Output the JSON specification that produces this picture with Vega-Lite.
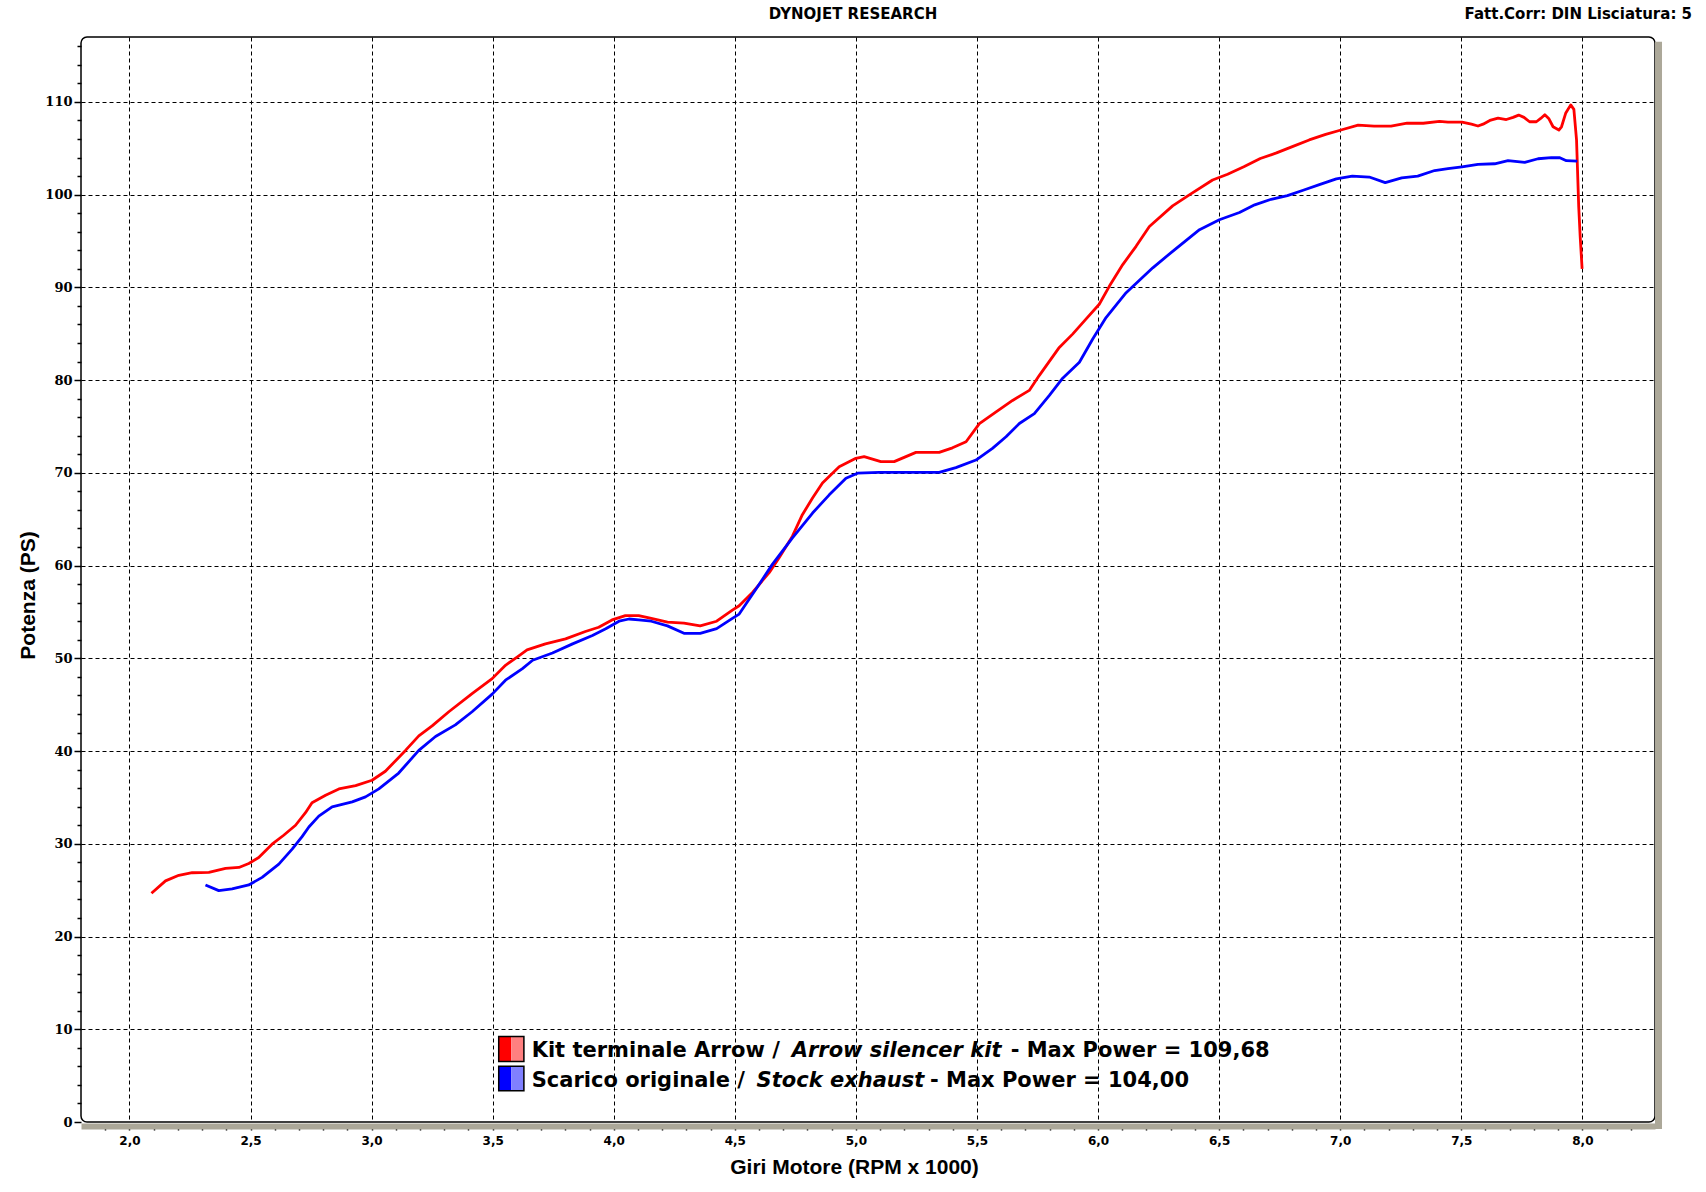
{
  "$schema": "https://vega.github.io/schema/vega-lite/v6.json",
  "description": "Dynojet power curves, Arrow silencer kit vs stock exhaust",
  "width": 1574,
  "height": 1085,
  "autosize": "none",
  "padding": {"left": 81, "top": 37, "right": 51, "bottom": 70},
  "background": "white",
  "title": {
    "text": "DYNOJET RESEARCH",
    "font": "DejaVu Sans",
    "fontWeight": "bold",
    "fontSize": 15,
    "color": "#000",
    "anchor": "middle",
    "frame": "group",
    "dx": -15,
    "offset": -15
  },
  "data": {
    "values": [
      {"rpm": 2.091, "power": 24.66, "series": "Arrow"},
      {"rpm": 2.149, "power": 26.0, "series": "Arrow"},
      {"rpm": 2.204, "power": 26.6, "series": "Arrow"},
      {"rpm": 2.259, "power": 26.88, "series": "Arrow"},
      {"rpm": 2.328, "power": 26.92, "series": "Arrow"},
      {"rpm": 2.397, "power": 27.34, "series": "Arrow"},
      {"rpm": 2.452, "power": 27.45, "series": "Arrow"},
      {"rpm": 2.493, "power": 27.88, "series": "Arrow"},
      {"rpm": 2.534, "power": 28.52, "series": "Arrow"},
      {"rpm": 2.589, "power": 29.96, "series": "Arrow"},
      {"rpm": 2.637, "power": 30.92, "series": "Arrow"},
      {"rpm": 2.686, "power": 32.0, "series": "Arrow"},
      {"rpm": 2.727, "power": 33.35, "series": "Arrow"},
      {"rpm": 2.754, "power": 34.42, "series": "Arrow"},
      {"rpm": 2.81, "power": 35.24, "series": "Arrow"},
      {"rpm": 2.865, "power": 35.92, "series": "Arrow"},
      {"rpm": 2.934, "power": 36.28, "series": "Arrow"},
      {"rpm": 3.002, "power": 36.85, "series": "Arrow"},
      {"rpm": 3.057, "power": 37.82, "series": "Arrow"},
      {"rpm": 3.14, "power": 40.07, "series": "Arrow"},
      {"rpm": 3.195, "power": 41.64, "series": "Arrow"},
      {"rpm": 3.25, "power": 42.71, "series": "Arrow"},
      {"rpm": 3.319, "power": 44.24, "series": "Arrow"},
      {"rpm": 3.415, "power": 46.2, "series": "Arrow"},
      {"rpm": 3.498, "power": 47.81, "series": "Arrow"},
      {"rpm": 3.553, "power": 49.25, "series": "Arrow"},
      {"rpm": 3.601, "power": 50.14, "series": "Arrow"},
      {"rpm": 3.642, "power": 50.92, "series": "Arrow"},
      {"rpm": 3.718, "power": 51.56, "series": "Arrow"},
      {"rpm": 3.801, "power": 52.1, "series": "Arrow"},
      {"rpm": 3.883, "power": 52.89, "series": "Arrow"},
      {"rpm": 3.938, "power": 53.35, "series": "Arrow"},
      {"rpm": 3.993, "power": 54.14, "series": "Arrow"},
      {"rpm": 4.048, "power": 54.61, "series": "Arrow"},
      {"rpm": 4.103, "power": 54.61, "series": "Arrow"},
      {"rpm": 4.155, "power": 54.3, "series": "Arrow"},
      {"rpm": 4.222, "power": 53.9, "series": "Arrow"},
      {"rpm": 4.29, "power": 53.8, "series": "Arrow"},
      {"rpm": 4.357, "power": 53.5, "series": "Arrow"},
      {"rpm": 4.425, "power": 54.0, "series": "Arrow"},
      {"rpm": 4.49, "power": 55.2, "series": "Arrow"},
      {"rpm": 4.518, "power": 55.67, "series": "Arrow"},
      {"rpm": 4.573, "power": 57.1, "series": "Arrow"},
      {"rpm": 4.642, "power": 59.24, "series": "Arrow"},
      {"rpm": 4.683, "power": 60.85, "series": "Arrow"},
      {"rpm": 4.738, "power": 63.17, "series": "Arrow"},
      {"rpm": 4.779, "power": 65.49, "series": "Arrow"},
      {"rpm": 4.821, "power": 67.28, "series": "Arrow"},
      {"rpm": 4.862, "power": 68.9, "series": "Arrow"},
      {"rpm": 4.931, "power": 70.67, "series": "Arrow"},
      {"rpm": 5.0, "power": 71.57, "series": "Arrow"},
      {"rpm": 5.034, "power": 71.75, "series": "Arrow"},
      {"rpm": 5.103, "power": 71.21, "series": "Arrow"},
      {"rpm": 5.158, "power": 71.21, "series": "Arrow"},
      {"rpm": 5.248, "power": 72.21, "series": "Arrow"},
      {"rpm": 5.344, "power": 72.21, "series": "Arrow"},
      {"rpm": 5.399, "power": 72.7, "series": "Arrow"},
      {"rpm": 5.455, "power": 73.35, "series": "Arrow"},
      {"rpm": 5.51, "power": 75.3, "series": "Arrow"},
      {"rpm": 5.579, "power": 76.57, "series": "Arrow"},
      {"rpm": 5.647, "power": 77.81, "series": "Arrow"},
      {"rpm": 5.716, "power": 78.89, "series": "Arrow"},
      {"rpm": 5.757, "power": 80.49, "series": "Arrow"},
      {"rpm": 5.84, "power": 83.53, "series": "Arrow"},
      {"rpm": 5.895, "power": 84.96, "series": "Arrow"},
      {"rpm": 5.95, "power": 86.57, "series": "Arrow"},
      {"rpm": 6.005, "power": 88.18, "series": "Arrow"},
      {"rpm": 6.047, "power": 90.14, "series": "Arrow"},
      {"rpm": 6.102, "power": 92.46, "series": "Arrow"},
      {"rpm": 6.157, "power": 94.43, "series": "Arrow"},
      {"rpm": 6.212, "power": 96.57, "series": "Arrow"},
      {"rpm": 6.308, "power": 98.79, "series": "Arrow"},
      {"rpm": 6.377, "power": 99.97, "series": "Arrow"},
      {"rpm": 6.473, "power": 101.58, "series": "Arrow"},
      {"rpm": 6.535, "power": 102.2, "series": "Arrow"},
      {"rpm": 6.602, "power": 103.0, "series": "Arrow"},
      {"rpm": 6.67, "power": 103.9, "series": "Arrow"},
      {"rpm": 6.737, "power": 104.5, "series": "Arrow"},
      {"rpm": 6.805, "power": 105.2, "series": "Arrow"},
      {"rpm": 6.872, "power": 105.9, "series": "Arrow"},
      {"rpm": 6.94, "power": 106.5, "series": "Arrow"},
      {"rpm": 7.007, "power": 107.0, "series": "Arrow"},
      {"rpm": 7.074, "power": 107.5, "series": "Arrow"},
      {"rpm": 7.14, "power": 107.4, "series": "Arrow"},
      {"rpm": 7.21, "power": 107.4, "series": "Arrow"},
      {"rpm": 7.276, "power": 107.7, "series": "Arrow"},
      {"rpm": 7.343, "power": 107.7, "series": "Arrow"},
      {"rpm": 7.41, "power": 107.9, "series": "Arrow"},
      {"rpm": 7.445, "power": 107.83, "series": "Arrow"},
      {"rpm": 7.503, "power": 107.83, "series": "Arrow"},
      {"rpm": 7.542, "power": 107.6, "series": "Arrow"},
      {"rpm": 7.569, "power": 107.4, "series": "Arrow"},
      {"rpm": 7.59, "power": 107.6, "series": "Arrow"},
      {"rpm": 7.618, "power": 108.0, "series": "Arrow"},
      {"rpm": 7.652, "power": 108.26, "series": "Arrow"},
      {"rpm": 7.686, "power": 108.1, "series": "Arrow"},
      {"rpm": 7.714, "power": 108.33, "series": "Arrow"},
      {"rpm": 7.737, "power": 108.58, "series": "Arrow"},
      {"rpm": 7.759, "power": 108.33, "series": "Arrow"},
      {"rpm": 7.782, "power": 107.86, "series": "Arrow"},
      {"rpm": 7.81, "power": 107.86, "series": "Arrow"},
      {"rpm": 7.828, "power": 108.22, "series": "Arrow"},
      {"rpm": 7.845, "power": 108.62, "series": "Arrow"},
      {"rpm": 7.861, "power": 108.22, "series": "Arrow"},
      {"rpm": 7.879, "power": 107.32, "series": "Arrow"},
      {"rpm": 7.903, "power": 106.97, "series": "Arrow"},
      {"rpm": 7.914, "power": 107.32, "series": "Arrow"},
      {"rpm": 7.931, "power": 108.77, "series": "Arrow"},
      {"rpm": 7.952, "power": 109.68, "series": "Arrow"},
      {"rpm": 7.965, "power": 109.2, "series": "Arrow"},
      {"rpm": 7.976, "power": 105.9, "series": "Arrow"},
      {"rpm": 7.985, "power": 98.7, "series": "Arrow"},
      {"rpm": 7.991, "power": 95.5, "series": "Arrow"},
      {"rpm": 7.999, "power": 92.0, "series": "Arrow"},
      {"rpm": 2.314, "power": 25.56, "series": "Stock"},
      {"rpm": 2.369, "power": 24.95, "series": "Stock"},
      {"rpm": 2.424, "power": 25.13, "series": "Stock"},
      {"rpm": 2.493, "power": 25.56, "series": "Stock"},
      {"rpm": 2.548, "power": 26.38, "series": "Stock"},
      {"rpm": 2.617, "power": 27.81, "series": "Stock"},
      {"rpm": 2.672, "power": 29.42, "series": "Stock"},
      {"rpm": 2.713, "power": 30.77, "series": "Stock"},
      {"rpm": 2.741, "power": 31.81, "series": "Stock"},
      {"rpm": 2.782, "power": 32.99, "series": "Stock"},
      {"rpm": 2.837, "power": 33.99, "series": "Stock"},
      {"rpm": 2.92, "power": 34.52, "series": "Stock"},
      {"rpm": 2.975, "power": 35.06, "series": "Stock"},
      {"rpm": 3.03, "power": 35.92, "series": "Stock"},
      {"rpm": 3.112, "power": 37.63, "series": "Stock"},
      {"rpm": 3.195, "power": 40.07, "series": "Stock"},
      {"rpm": 3.264, "power": 41.57, "series": "Stock"},
      {"rpm": 3.346, "power": 42.82, "series": "Stock"},
      {"rpm": 3.415, "power": 44.24, "series": "Stock"},
      {"rpm": 3.498, "power": 46.14, "series": "Stock"},
      {"rpm": 3.553, "power": 47.64, "series": "Stock"},
      {"rpm": 3.623, "power": 48.89, "series": "Stock"},
      {"rpm": 3.665, "power": 49.79, "series": "Stock"},
      {"rpm": 3.747, "power": 50.57, "series": "Stock"},
      {"rpm": 3.83, "power": 51.56, "series": "Stock"},
      {"rpm": 3.912, "power": 52.47, "series": "Stock"},
      {"rpm": 3.967, "power": 53.18, "series": "Stock"},
      {"rpm": 4.022, "power": 54.0, "series": "Stock"},
      {"rpm": 4.063, "power": 54.24, "series": "Stock"},
      {"rpm": 4.103, "power": 54.14, "series": "Stock"},
      {"rpm": 4.155, "power": 54.0, "series": "Stock"},
      {"rpm": 4.222, "power": 53.5, "series": "Stock"},
      {"rpm": 4.29, "power": 52.7, "series": "Stock"},
      {"rpm": 4.357, "power": 52.7, "series": "Stock"},
      {"rpm": 4.425, "power": 53.2, "series": "Stock"},
      {"rpm": 4.49, "power": 54.3, "series": "Stock"},
      {"rpm": 4.518, "power": 54.77, "series": "Stock"},
      {"rpm": 4.587, "power": 57.45, "series": "Stock"},
      {"rpm": 4.655, "power": 60.13, "series": "Stock"},
      {"rpm": 4.738, "power": 62.99, "series": "Stock"},
      {"rpm": 4.821, "power": 65.67, "series": "Stock"},
      {"rpm": 4.89, "power": 67.63, "series": "Stock"},
      {"rpm": 4.959, "power": 69.42, "series": "Stock"},
      {"rpm": 5.007, "power": 69.96, "series": "Stock"},
      {"rpm": 5.096, "power": 70.06, "series": "Stock"},
      {"rpm": 5.207, "power": 70.06, "series": "Stock"},
      {"rpm": 5.344, "power": 70.06, "series": "Stock"},
      {"rpm": 5.413, "power": 70.57, "series": "Stock"},
      {"rpm": 5.496, "power": 71.38, "series": "Stock"},
      {"rpm": 5.564, "power": 72.64, "series": "Stock"},
      {"rpm": 5.62, "power": 73.89, "series": "Stock"},
      {"rpm": 5.675, "power": 75.32, "series": "Stock"},
      {"rpm": 5.737, "power": 76.39, "series": "Stock"},
      {"rpm": 5.799, "power": 78.35, "series": "Stock"},
      {"rpm": 5.854, "power": 80.21, "series": "Stock"},
      {"rpm": 5.923, "power": 81.93, "series": "Stock"},
      {"rpm": 5.978, "power": 84.43, "series": "Stock"},
      {"rpm": 6.033, "power": 86.75, "series": "Stock"},
      {"rpm": 6.116, "power": 89.43, "series": "Stock"},
      {"rpm": 6.226, "power": 92.11, "series": "Stock"},
      {"rpm": 6.308, "power": 93.89, "series": "Stock"},
      {"rpm": 6.419, "power": 96.22, "series": "Stock"},
      {"rpm": 6.501, "power": 97.29, "series": "Stock"},
      {"rpm": 6.584, "power": 98.07, "series": "Stock"},
      {"rpm": 6.647, "power": 98.9, "series": "Stock"},
      {"rpm": 6.715, "power": 99.5, "series": "Stock"},
      {"rpm": 6.782, "power": 99.9, "series": "Stock"},
      {"rpm": 6.85, "power": 100.5, "series": "Stock"},
      {"rpm": 6.917, "power": 101.1, "series": "Stock"},
      {"rpm": 6.984, "power": 101.7, "series": "Stock"},
      {"rpm": 7.05, "power": 102.0, "series": "Stock"},
      {"rpm": 7.12, "power": 101.9, "series": "Stock"},
      {"rpm": 7.186, "power": 101.3, "series": "Stock"},
      {"rpm": 7.254, "power": 101.8, "series": "Stock"},
      {"rpm": 7.32, "power": 102.0, "series": "Stock"},
      {"rpm": 7.39, "power": 102.6, "series": "Stock"},
      {"rpm": 7.445, "power": 102.8, "series": "Stock"},
      {"rpm": 7.503, "power": 103.0, "series": "Stock"},
      {"rpm": 7.569, "power": 103.26, "series": "Stock"},
      {"rpm": 7.638, "power": 103.33, "series": "Stock"},
      {"rpm": 7.693, "power": 103.66, "series": "Stock"},
      {"rpm": 7.762, "power": 103.48, "series": "Stock"},
      {"rpm": 7.817, "power": 103.87, "series": "Stock"},
      {"rpm": 7.872, "power": 104.0, "series": "Stock"},
      {"rpm": 7.907, "power": 103.98, "series": "Stock"},
      {"rpm": 7.934, "power": 103.66, "series": "Stock"},
      {"rpm": 7.979, "power": 103.62, "series": "Stock"}
    ]
  },
  "layer": [
    {
      "mark": {"type": "rule", "color": "#aca899", "strokeWidth": 7, "strokeCap": "butt"},
      "data": {"values": [{}]},
      "encoding": {
        "x": {"datum": 8.3145},
        "y": {"datum": -0.75},
        "y2": {"datum": 116.5}
      }
    },
    {
      "mark": {"type": "line", "strokeWidth": 2.8, "strokeJoin": "round", "clip": true},
      "encoding": {
        "x": {
          "field": "rpm",
          "type": "quantitative",
          "scale": {"domain": [1.8, 8.3], "nice": false, "zero": false},
          "axis": {
            "values": [1.9, 2.0, 2.1, 2.2, 2.3, 2.4, 2.5, 2.6, 2.7, 2.8, 2.9, 3.0, 3.1, 3.2, 3.3, 3.4, 3.5, 3.6, 3.7, 3.8, 3.9, 4.0, 4.1, 4.2, 4.3, 4.4, 4.5, 4.6, 4.7, 4.8, 4.9, 5.0, 5.1, 5.2, 5.3, 5.4, 5.5, 5.6, 5.7, 5.8, 5.9, 6.0, 6.1, 6.2, 6.3, 6.4, 6.5, 6.6, 6.7, 6.8, 6.9, 7.0, 7.1, 7.2, 7.3, 7.4, 7.5, 7.6, 7.7, 7.8, 7.9, 8.0, 8.1, 8.2],
            "tickCount": 200,
            "labelExpr": "abs(datum.value * 2 - round(datum.value * 2)) < 0.001 ? replace(format(datum.value, '.1f'), '.', ',') : ''",
            "labelFont": "DejaVu Sans",
            "labelFontWeight": "bold",
            "labelFontSize": 12,
            "labelColor": "#000",
            "labelPadding": 5,
            "labelFlush": false,
            "labelOverlap": false,
            "offset": 4,
            "domainColor": "#aca899",
            "domainWidth": 6,
            "tickColor": "#000",
            "tickSize": 4,
            "tickWidth": 1.5,
            "grid": true,
            "gridColor": "#000",
            "gridDash": [4, 3],
            "gridWidth": 1,
            "gridOpacity": {"condition": {"test": "abs(datum.value * 2 - round(datum.value * 2)) < 0.001", "value": 1}, "value": 0},
            "title": "Giri Motore (RPM x 1000)",
            "titleFont": "Liberation Sans",
            "titleFontWeight": "bold",
            "titleFontSize": 21,
            "titleColor": "#000",
            "titleX": 773,
            "titleY": 47,
            "titleBaseline": "alphabetic"
          }
        },
        "y": {
          "field": "power",
          "type": "quantitative",
          "scale": {"domain": [0, 117], "nice": false},
          "axis": {
            "values": [0, 2, 4, 6, 8, 10, 12, 14, 16, 18, 20, 22, 24, 26, 28, 30, 32, 34, 36, 38, 40, 42, 44, 46, 48, 50, 52, 54, 56, 58, 60, 62, 64, 66, 68, 70, 72, 74, 76, 78, 80, 82, 84, 86, 88, 90, 92, 94, 96, 98, 100, 102, 104, 106, 108, 110, 112, 114, 116],
            "tickCount": 200,
            "labelExpr": "datum.value % 10 === 0 ? format(datum.value, 'd') : ''",
            "labelFont": "DejaVu Serif",
            "labelFontWeight": "bold",
            "labelFontSize": 13,
            "labelColor": "#000",
            "labelPadding": 2,
            "labelFlush": false,
            "labelOverlap": false,
            "domain": false,
            "tickColor": "#000",
            "tickWidth": 1.5,
            "tickSize": {"condition": {"test": "datum.value % 10 === 0", "value": 7}, "value": 4},
            "grid": true,
            "gridColor": "#000",
            "gridDash": [4, 3],
            "gridWidth": 1,
            "gridOpacity": {"condition": {"test": "datum.value % 10 === 0 && datum.value > 0", "value": 1}, "value": 0},
            "title": "Potenza (PS)",
            "titleFont": "Liberation Sans",
            "titleFontWeight": "bold",
            "titleFontSize": 21,
            "titleColor": "#000",
            "titleAngle": 270,
            "titleAlign": "center",
            "titleBaseline": "middle",
            "titleX": -53,
            "titleY": 558
          }
        },
        "color": {
          "field": "series",
          "type": "nominal",
          "scale": {"domain": ["Arrow", "Stock"], "range": ["#ff0000", "#0000ff"]},
          "legend": null
        }
      }
    },
    {
      "mark": {"type": "rect", "color": "#ff0000"},
      "data": {"values": [{}]},
      "encoding": {"x": {"datum": 3.525}, "x2": {"datum": 3.577}, "y": {"datum": 6.53}, "y2": {"datum": 9.22}}
    },
    {
      "mark": {"type": "rect", "color": "#ff8080"},
      "data": {"values": [{}]},
      "encoding": {"x": {"datum": 3.577}, "x2": {"datum": 3.629}, "y": {"datum": 6.53}, "y2": {"datum": 9.22}}
    },
    {
      "mark": {"type": "rect", "filled": false, "stroke": "#000", "strokeWidth": 1.5},
      "data": {"values": [{}]},
      "encoding": {"x": {"datum": 3.525}, "x2": {"datum": 3.629}, "y": {"datum": 6.53}, "y2": {"datum": 9.22}}
    },
    {
      "mark": {"type": "rect", "color": "#0000ff"},
      "data": {"values": [{}]},
      "encoding": {"x": {"datum": 3.525}, "x2": {"datum": 3.577}, "y": {"datum": 3.37}, "y2": {"datum": 6.0}}
    },
    {
      "mark": {"type": "rect", "color": "#8080ff"},
      "data": {"values": [{}]},
      "encoding": {"x": {"datum": 3.577}, "x2": {"datum": 3.629}, "y": {"datum": 3.37}, "y2": {"datum": 6.0}}
    },
    {
      "mark": {"type": "rect", "filled": false, "stroke": "#000", "strokeWidth": 1.5},
      "data": {"values": [{}]},
      "encoding": {"x": {"datum": 3.525}, "x2": {"datum": 3.629}, "y": {"datum": 3.37}, "y2": {"datum": 6.0}}
    },
    {
      "mark": {"type": "text", "font": "DejaVu Sans", "fontWeight": "bold", "fontSize": 21, "align": "left", "baseline": "alphabetic", "color": "#000"},
      "data": {"values": [{"label": "Kit terminale Arrow /"}]},
      "encoding": {"x": {"datum": 3.661}, "y": {"datum": 6.96}, "text": {"field": "label"}}
    },
    {
      "mark": {"type": "text", "font": "DejaVu Sans", "fontWeight": "bold", "fontStyle": "italic", "fontSize": 21, "align": "left", "baseline": "alphabetic", "color": "#000"},
      "data": {"values": [{"label": "Arrow silencer kit"}]},
      "encoding": {"x": {"datum": 4.735}, "y": {"datum": 6.96}, "text": {"field": "label"}}
    },
    {
      "mark": {"type": "text", "font": "DejaVu Sans", "fontWeight": "bold", "fontSize": 21, "align": "left", "baseline": "alphabetic", "color": "#000"},
      "data": {"values": [{"label": "- Max Power = 109,68"}]},
      "encoding": {"x": {"datum": 5.639}, "y": {"datum": 6.96}, "text": {"field": "label"}}
    },
    {
      "mark": {"type": "text", "font": "DejaVu Sans", "fontWeight": "bold", "fontSize": 21, "align": "left", "baseline": "alphabetic", "color": "#000"},
      "data": {"values": [{"label": "Scarico originale /"}]},
      "encoding": {"x": {"datum": 3.661}, "y": {"datum": 3.74}, "text": {"field": "label"}}
    },
    {
      "mark": {"type": "text", "font": "DejaVu Sans", "fontWeight": "bold", "fontStyle": "italic", "fontSize": 21, "align": "left", "baseline": "alphabetic", "color": "#000"},
      "data": {"values": [{"label": "Stock exhaust"}]},
      "encoding": {"x": {"datum": 4.59}, "y": {"datum": 3.74}, "text": {"field": "label"}}
    },
    {
      "mark": {"type": "text", "font": "DejaVu Sans", "fontWeight": "bold", "fontSize": 21, "align": "left", "baseline": "alphabetic", "color": "#000"},
      "data": {"values": [{"label": "- Max Power = 104,00"}]},
      "encoding": {"x": {"datum": 5.306}, "y": {"datum": 3.74}, "text": {"field": "label"}}
    },
    {
      "mark": {"type": "text", "font": "DejaVu Sans", "fontWeight": "bold", "fontSize": 15, "align": "right", "baseline": "alphabetic", "color": "#000"},
      "data": {"values": [{"label": "Fatt.Corr: DIN  Lisciatura: 5"}]},
      "encoding": {"x": {"datum": 8.453}, "y": {"datum": 118.9}, "text": {"field": "label"}}
    }
  ],
  "config": {
    "view": {"stroke": "#000", "strokeWidth": 1.5, "cornerRadius": 6, "fill": "white"}
  }
}
